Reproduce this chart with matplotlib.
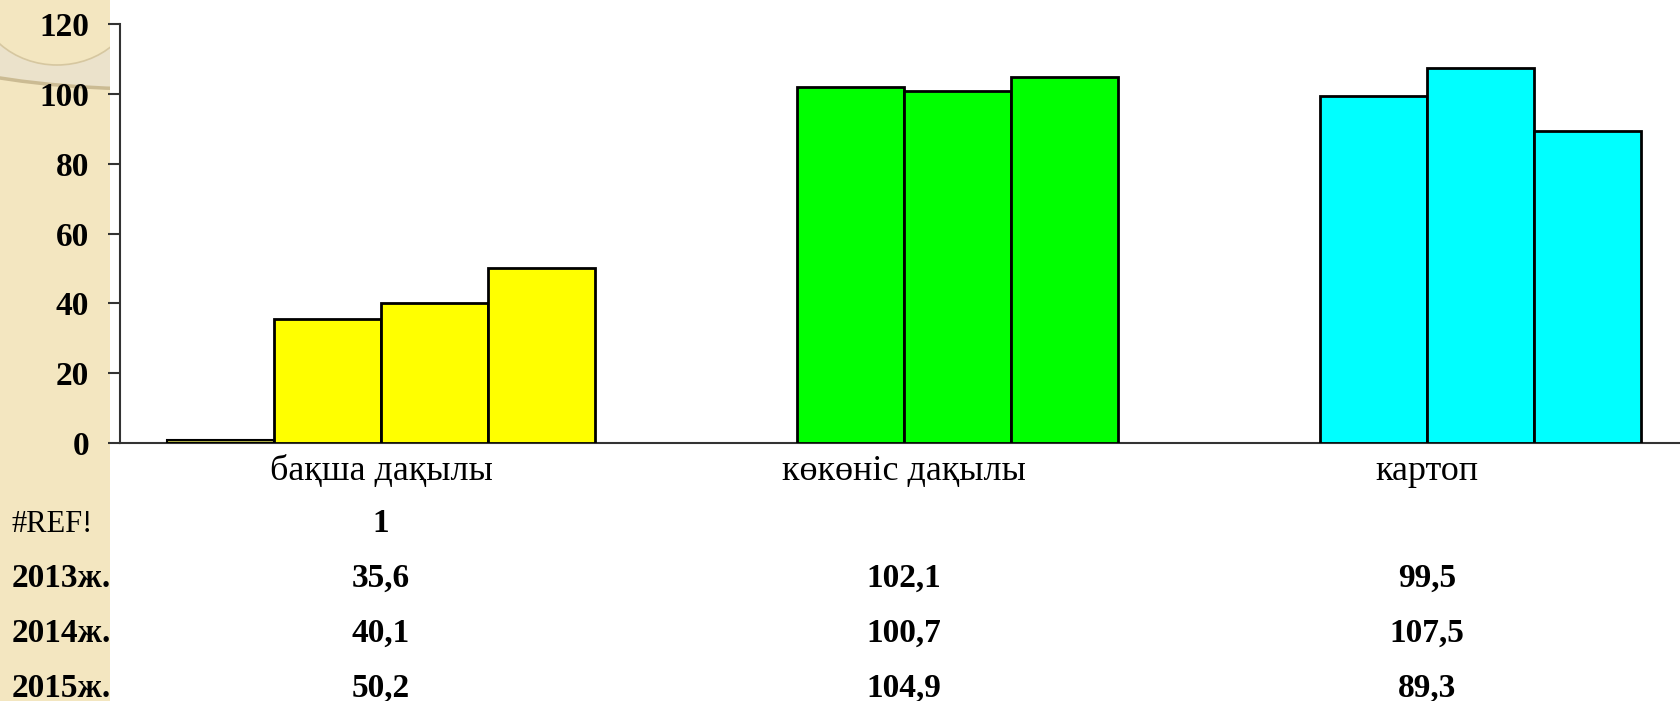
import numpy as np
import matplotlib
matplotlib.use("Agg")
import matplotlib.pyplot as plt
import matplotlib.transforms as mtransforms
from matplotlib.patches import Rectangle, Ellipse

plt.rcParams['font.family'] = ['Liberation Serif', 'DejaVu Serif']

# data
categories = ['бақша дақылы', 'көкөніс дақылы', 'картоп']
series_names = ['#REF!', '2013ж.', '2014ж.', '2015ж.']
ref_vals = [1, None, None]
v2013 = [35.6, 102.1, 99.5]
v2014 = [40.1, 100.7, 107.5]
v2015 = [50.2, 104.9, 89.3]
cat_colors = ['#ffff00', '#00ff00', '#00ffff']
ref_color = '#bcbc48'
yticks = [0, 20, 40, 60, 80, 100, 120]

W, H = 1680, 701
fig = plt.figure(figsize=(W / 100, H / 100), dpi=100)
fig.patch.set_facecolor('white')

beige = '#f3e6c0'


def px_ellipse(cx, cy, w, h, **kw):
    # ellipse given in pixels from the top-left corner
    return Ellipse((cx / W, 1 - cy / H), w / W, h / H, transform=fig.transFigure, **kw)


# beige side strip with the decorative ring
strip = Rectangle((0, 0), 110 / W, 1, transform=fig.transFigure,
                  facecolor=beige, edgecolor='none', zorder=0)
fig.patches.append(strip)
outer = px_ellipse(150, 7, 600, 164, facecolor='#ebe2cb', edgecolor='#cbbb93', linewidth=2.5, zorder=1)
inner = px_ellipse(57, -5, 160, 140, facecolor=beige, edgecolor='#d6c7a0', linewidth=1.2, zorder=2)
for p in (outer, inner):
    p.set_clip_path(strip)
    fig.patches.append(p)

left_px, zero_px, top_px = 119.5, 443, 24
cat_px = 523
ax = fig.add_axes([left_px / W, (H - zero_px) / H, (W - left_px) / W, (zero_px - top_px) / H])
ax.set_facecolor('none')
ax.set_zorder(3)

x = np.arange(len(categories))
w = 107 / cat_px
offsets = np.array([-1.5, -0.5, 0.5, 1.5]) * w

for i in range(len(categories)):
    if ref_vals[i] is not None:
        ax.bar(x[i] + offsets[0], ref_vals[i], w, color=ref_color, edgecolor='black', linewidth=1.5, zorder=3)
    for k, vals in enumerate([v2013, v2014, v2015]):
        ax.bar(x[i] + offsets[k + 1], vals[i], w, color=cat_colors[i], edgecolor='black', linewidth=2, zorder=3)

ax.set_xlim(-0.5, -0.5 + (W - left_px) / cat_px)
ax.set_ylim(0, 120)
ax.set_yticks(yticks)
ax.set_yticklabels([str(t) for t in yticks], fontsize=24, fontweight='bold')
ax.tick_params(axis='y', length=9, width=1.5, color='#333333', pad=13)
ax.set_xticks([])
for s in ['top', 'right']:
    ax.spines[s].set_visible(False)
ax.spines['left'].set_color('#333333')
ax.spines['left'].set_linewidth(1.5)
ax.spines['bottom'].set_color('#333333')
ax.spines['bottom'].set_linewidth(1.5)

# category labels and data table below the axis
trans = mtransforms.blended_transform_factory(ax.transData, fig.transFigure)
for i, c in enumerate(categories):
    ax.text(x[i], (H - 480) / H, c, transform=trans, ha='center', va='baseline', fontsize=26)

row_base = [532, 587, 642, 697]
rows = [ref_vals, v2013, v2014, v2015]
for r, (name, vals) in enumerate(zip(series_names, rows)):
    fig.text(12 / W, (H - row_base[r]) / H, name, ha='left', va='baseline',
             fontsize=22 if r == 0 else 24, fontweight='normal' if r == 0 else 'bold')
    for i, v in enumerate(vals):
        if v is None:
            continue
        s = str(v) if isinstance(v, int) else f"{v:.1f}".replace('.', ',')
        ax.text(x[i], (H - row_base[r]) / H, s, transform=trans, ha='center', va='baseline',
                fontsize=24, fontweight='bold')

fig.savefig('out.png', dpi=100)
